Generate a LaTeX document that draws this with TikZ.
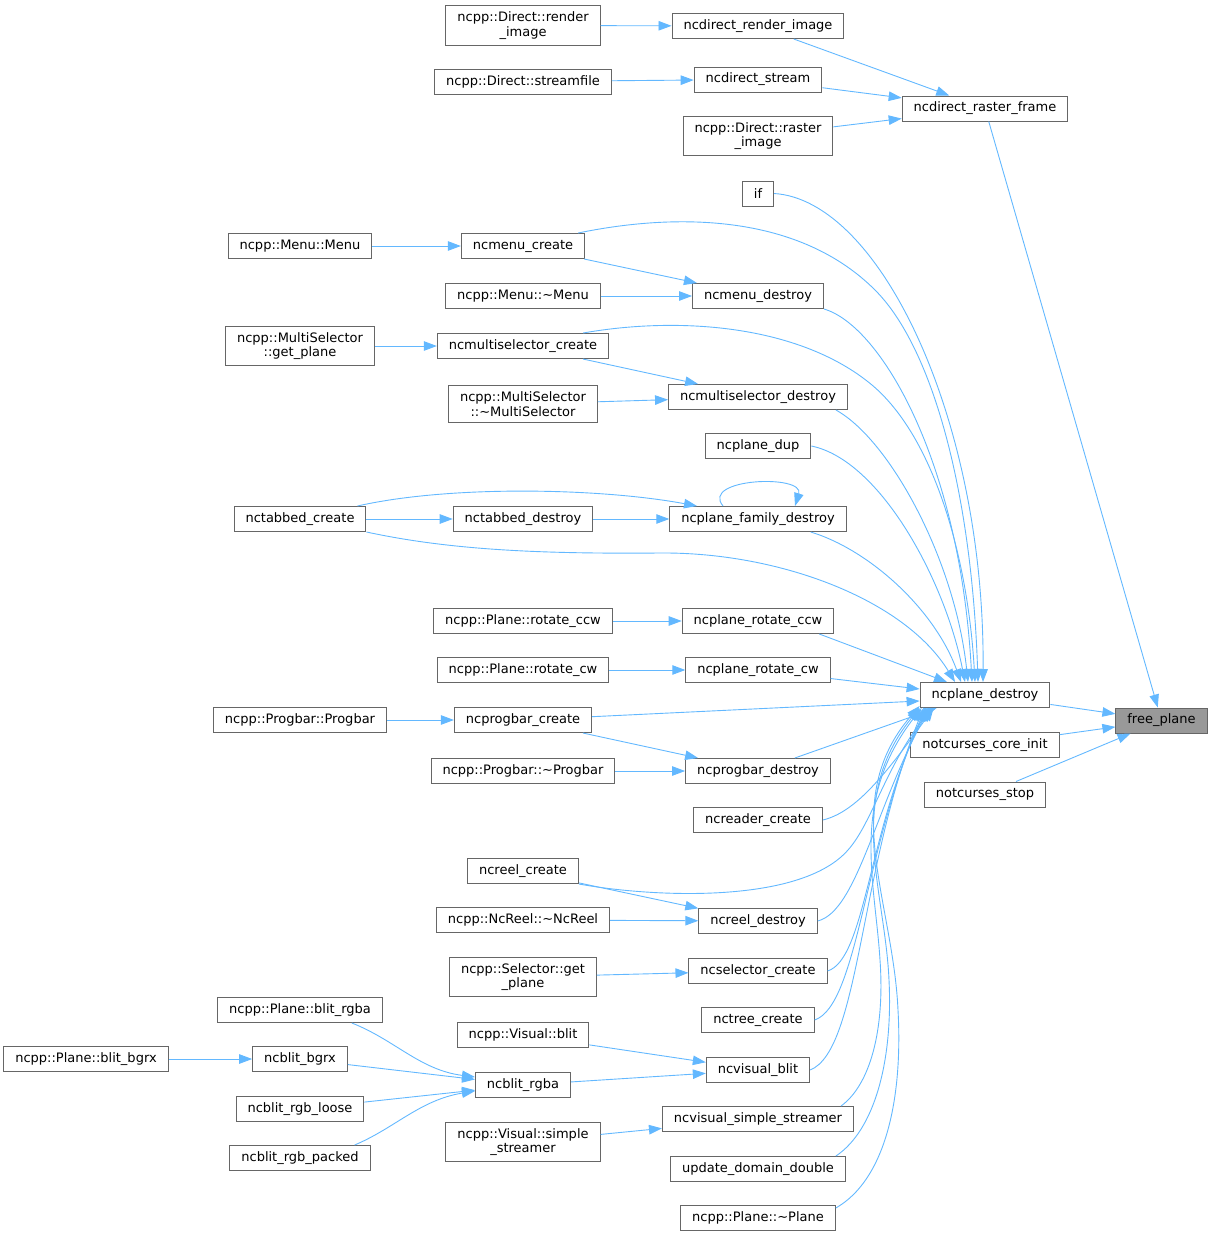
\documentclass[tikz,border=0pt]{standalone}
\usepackage{fontspec}
\setmainfont{DejaVu Sans}
\usetikzlibrary{arrows.meta}
\definecolor{edgeblue}{RGB}{99,184,255}
\definecolor{boxgray}{RGB}{102,102,102}
\definecolor{curgray}{RGB}{153,153,153}
\tikzset{
  func/.style={draw=boxgray, line width=1pt, fill=white, inner xsep=11.5pt, inner ysep=6pt,
    minimum height=25pt, align=center, font=\fontsize{13}{14.5}\selectfont},
  selfn/.style={func, fill=curgray},
  callarrow/.style={draw=edgeblue, line width=0.9pt, -{Triangle[length=13pt,width=9.5pt]}}
}
\begin{document}
\begin{tikzpicture}[x=1pt,y=-1pt]
  \def\colA{86}
  \def\colB{300}
  \def\colC{523}
  \def\colD{758}
  \def\colE{985}
  \def\colF{1161.5}
  \useasboundingbox (0,0) rectangle (1212,1237);
  % right part
  \node[selfn] (freeplane) at (\colF,720.5) {free\_plane};
  \node[func] (planedestroy) at (\colE,695) {ncplane\_destroy};
  \node[func] (coreinit) at (\colE,745) {notcurses\_core\_init};
  \node[func] (ncstop) at (\colE,794.5) {notcurses\_stop};
  \node[func] (rasterframe) at (\colE,108.5) {ncdirect\_raster\_frame};
  % direct
  \node[func] (renderimage) at (\colD,26) {ncdirect\_render\_image};
  \node[func] (directstream) at (\colD,79.5) {ncdirect\_stream};
  \node[func] (cppdirectraster) at (\colD,136) {ncpp::Direct::raster\\\_image};
  \node[func] (cppdirectrender) at (\colC,25.5) {ncpp::Direct::render\\\_image};
  \node[func] (cppdirectstream) at (\colC,81.5) {ncpp::Direct::streamfile};
  \node[func] (ifcall) at (\colD,193.5) {if};
  % menu, multiselector
  \node[func] (cppmenu) at (\colB,246) {ncpp::Menu::Menu};
  \node[func] (menucreate) at (\colC,246) {ncmenu\_create};
  \node[func] (cppmenudtor) at (\colC,296) {ncpp::Menu::\textasciitilde Menu};
  \node[func] (menudestroy) at (\colD,296) {ncmenu\_destroy};
  \node[func] (cppmsplane) at (\colB,346) {ncpp::MultiSelector\\::get\_plane};
  \node[func] (mscreate) at (\colC,346) {ncmultiselector\_create};
  \node[func] (cppmsdtor) at (\colC,404) {ncpp::MultiSelector\\::\textasciitilde MultiSelector};
  \node[func] (msdestroy) at (\colD,397) {ncmultiselector\_destroy};
  \node[func] (planedup) at (\colD,446) {ncplane\_dup};
  % tabbed
  \node[func] (tabcreate) at (\colB,519) {nctabbed\_create};
  \node[func] (tabdestroy) at (\colC,519) {nctabbed\_destroy};
  \node[func] (familydestroy) at (\colD,519) {ncplane\_family\_destroy};
  % rotate, progbar
  \node[func] (cppccw) at (\colC,621) {ncpp::Plane::rotate\_ccw};
  \node[func] (rotccw) at (\colD,621) {ncplane\_rotate\_ccw};
  \node[func] (cppcw) at (\colC,670) {ncpp::Plane::rotate\_cw};
  \node[func] (rotcw) at (\colD,670) {ncplane\_rotate\_cw};
  \node[func] (cppprogbar) at (\colB,720) {ncpp::Progbar::Progbar};
  \node[func] (progcreate) at (\colC,720) {ncprogbar\_create};
  \node[func] (cppprogdtor) at (\colC,771) {ncpp::Progbar::\textasciitilde Progbar};
  \node[func] (progdestroy) at (\colD,771) {ncprogbar\_destroy};
  \node[func] (readercreate) at (\colD,820) {ncreader\_create};
  % reel, selector, tree
  \node[func] (reelcreate) at (\colC,871) {ncreel\_create};
  \node[func] (cppreeldtor) at (\colC,920) {ncpp::NcReel::\textasciitilde NcReel};
  \node[func] (reeldestroy) at (\colD,921) {ncreel\_destroy};
  \node[func] (cppselplane) at (\colC,977) {ncpp::Selector::get\\\_plane};
  \node[func] (selcreate) at (\colD,971) {ncselector\_create};
  \node[func] (treecreate) at (\colD,1020) {nctree\_create};
  % visual, blit
  \node[func] (cppblitrgba) at (\colB,1010) {ncpp::Plane::blit\_rgba};
  \node[func] (cppvisblit) at (\colC,1035) {ncpp::Visual::blit};
  \node[func] (cppblitbgrx) at (\colA,1059) {ncpp::Plane::blit\_bgrx};
  \node[func] (blitbgrx) at (\colB,1059) {ncblit\_bgrx};
  \node[func] (visblit) at (\colD,1070) {ncvisual\_blit};
  \node[func] (blitrgba) at (\colC,1085) {ncblit\_rgba};
  \node[func] (blitloose) at (\colB,1109) {ncblit\_rgb\_loose};
  \node[func] (streamer) at (\colD,1119) {ncvisual\_simple\_streamer};
  \node[func] (cppstreamer) at (\colC,1142) {ncpp::Visual::simple\\\_streamer};
  \node[func] (blitpacked) at (\colB,1158) {ncblit\_rgb\_packed};
  \node[func] (domaindouble) at (\colD,1169) {update\_domain\_double};
  \node[func] (cppplanedtor) at (\colD,1218) {ncpp::Plane::\textasciitilde Plane};
  % calls into free_plane
  \draw[callarrow] (planedestroy) -- (freeplane);
  \draw[callarrow] (coreinit) -- (freeplane);
  \draw[callarrow] (ncstop) -- (freeplane);
  \draw[callarrow] (rasterframe) -- (freeplane);
  \draw[callarrow] (renderimage) -- (rasterframe);
  \draw[callarrow] (directstream) -- (rasterframe);
  \draw[callarrow] (cppdirectraster) -- (rasterframe);
  \draw[callarrow] (cppdirectrender) -- (renderimage);
  \draw[callarrow] (cppdirectstream) -- (directstream);
  % left callers
  \draw[callarrow] (cppmenu) -- (menucreate);
  \draw[callarrow] (menucreate) -- (menudestroy);
  \draw[callarrow] (cppmenudtor) -- (menudestroy);
  \draw[callarrow] (cppmsplane) -- (mscreate);
  \draw[callarrow] (mscreate) -- (msdestroy);
  \draw[callarrow] (cppmsdtor) -- (msdestroy);
  \draw[callarrow] (tabcreate) -- (tabdestroy);
  \draw[callarrow] (tabdestroy) -- (familydestroy);
  \draw[callarrow] ([xshift=-9]tabcreate.north east) .. controls (450,485) and (600,488) .. ([xshift=-61]familydestroy.north);
  \draw[callarrow] ([xshift=-35]familydestroy.north) .. controls (700,478) and (805,474) .. ([xshift=37]familydestroy.north);
  \draw[callarrow] (cppccw) -- (rotccw);
  \draw[callarrow] (cppcw) -- (rotcw);
  \draw[callarrow] (cppprogbar) -- (progcreate);
  \draw[callarrow] (progcreate) -- (progdestroy);
  \draw[callarrow] (cppprogdtor) -- (progdestroy);
  \draw[callarrow] (reelcreate) -- (reeldestroy);
  \draw[callarrow] (cppreeldtor) -- (reeldestroy);
  \draw[callarrow] (cppselplane) -- (selcreate);
  \draw[callarrow] (cppvisblit) -- (visblit);
  \draw[callarrow] (blitrgba) -- (visblit);
  \draw[callarrow] (cppstreamer) -- (streamer);
  \draw[callarrow] (cppblitbgrx) -- (blitbgrx);
  \draw[callarrow] (blitbgrx) -- (blitrgba);
  \draw[callarrow] (blitloose) -- (blitrgba);
  \draw[callarrow] ([xshift=-31]cppblitrgba.south east) .. controls (395,1040) and (420,1070) .. ([yshift=8]blitrgba.west);
  \draw[callarrow] ([xshift=-16]blitpacked.north east) .. controls (395,1128) and (420,1100) .. ([yshift=-6]blitrgba.west);
  % calls into ncplane_destroy, from above
  \draw[callarrow] (ifcall.east) .. controls (880,200) and (985,420) .. ([xshift=-2]planedestroy.north);
  \draw[callarrow] ([xshift=-7]menucreate.north east) .. controls (680,212) and (800,215) .. (875,290)
    .. controls (935,350) and (972,500) .. ([xshift=-7]planedestroy.north);
  \draw[callarrow] ([xshift=-26]mscreate.north east) .. controls (680,316) and (800,325) .. (872,385)
    .. controls (935,438) and (968,560) .. ([xshift=-10]planedestroy.north);
  \draw[callarrow] (menudestroy.south east) .. controls (880,325) and (960,460) .. ([xshift=-13]planedestroy.north);
  \draw[callarrow] ([xshift=-12]msdestroy.south east) .. controls (890,440) and (955,560) .. ([xshift=-17]planedestroy.north);
  \draw[callarrow] (planedup.east) .. controls (880,460) and (945,580) .. ([xshift=-20]planedestroy.north);
  \draw[callarrow] ([xshift=-36]familydestroy.south east) .. controls (870,550) and (935,610) .. ([xshift=-24]planedestroy.north);
  \draw[callarrow] (tabcreate.south east) .. controls (450,550) and (540,554) .. (660,553)
    .. controls (780,552) and (905,600) .. ([xshift=-30]planedestroy.north);
  \draw[callarrow] ([xshift=-15]rotccw.south east) -- ([xshift=-38]planedestroy.north);
  % from the left
  \draw[callarrow] (rotcw) -- ([yshift=6]planedestroy.west);
  \draw[callarrow] (progcreate) -- ([yshift=-6]planedestroy.west);
  % from below
  \draw[callarrow] (progdestroy) -- ([xshift=17]planedestroy.south west);
  \draw[callarrow] (readercreate.east) .. controls (856,812) and (885,775) .. ([xshift=14]planedestroy.south west);
  \draw[callarrow] (reelcreate.south east) .. controls (650,897) and (800,905) .. (848,850)
    .. controls (872,823) and (885,768) .. ([xshift=12]planedestroy.south west);
  \draw[callarrow] (reeldestroy.east) .. controls (857,911) and (875,808) .. ([xshift=10]planedestroy.south west);
  \draw[callarrow] (selcreate.east) .. controls (866,959) and (868,828) .. ([xshift=8]planedestroy.south west);
  \draw[callarrow] (treecreate.east) .. controls (858,1005) and (864,848) .. ([xshift=6]planedestroy.south west);
  \draw[callarrow] (visblit.east) .. controls (860,1050) and (859,868) .. ([xshift=4]planedestroy.south west);
  \draw[callarrow] ([xshift=-13]streamer.north east) .. controls (870,1085) and (885,1030) .. (880,960)
    .. controls (875,880) and (850,800) .. ([xshift=2]planedestroy.south west);
  \draw[callarrow] ([xshift=-10]domaindouble.north east) .. controls (875,1130) and (893,1060) .. (889,980)
    .. controls (885,890) and (845,800) .. (planedestroy.south west);
  \draw[callarrow] ([yshift=-3]cppplanedtor.north east) .. controls (885,1180) and (903,1100) .. (898,1010)
    .. controls (893,900) and (838,800) .. ([yshift=2]planedestroy.south west);
\end{tikzpicture}
\end{document}
